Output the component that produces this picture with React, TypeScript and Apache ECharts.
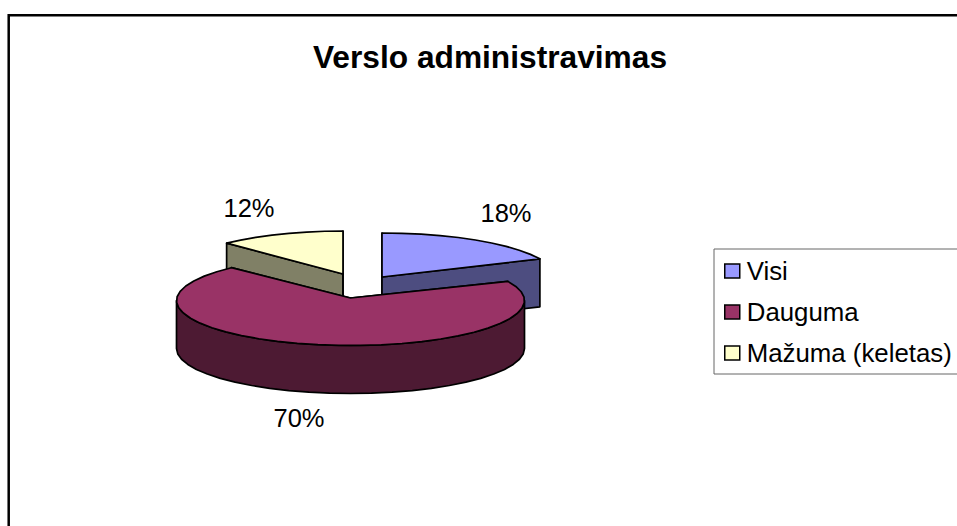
import React, { useEffect, useRef } from "react";
import * as echarts from "echarts";

const titleText = "Verslo administravimas";
const categories = ["Visi", "Dauguma", "Mažuma (keletas)"];
const values = [18, 70, 12];
const topColors = ["#9999FF", "#993366", "#FFFFCC"];
const wallColors = ["#4D4D80", "#4D1A33", "#808066"];

// layout of the exploded 3D pie, in pixels
const apexes = [[382, 277], [350.5, 298], [343, 274]];
const radiiX = [174.5, 174, 170];
const centerDrops = [1, 2.5, 2];
const labelPositions = [[506, 213], [299, 418], [249, 208]];
const seriesZ = [3, 4, 2];
const RY = 45, DEPTH = 48, ARC_STEP = 7;

const FONT = '"Liberation Sans", Arial, sans-serif';
const LINE = { stroke: "#000", lineWidth: 1.7, lineJoin: "round" };

function sliceElements(i: number, value: number) {
  const total = values.reduce((a, b) => a + b, 0);
  const before = values.slice(0, i).reduce((a, b) => a + b, 0);
  const start = (before / total) * 360;
  const end = start + (value / total) * 360;
  const [ax, ay] = apexes[i];
  const rim = (deg: number, drop = 0) => {
    const r = (deg * Math.PI) / 180;
    return [ax + radiiX[i] * Math.sin(r), ay + centerDrops[i] - RY * Math.cos(r) + drop];
  };
  const arc = (a: number, b: number, drop = 0) => {
    const pts: number[][] = [];
    const n = Math.max(1, Math.ceil(Math.abs(b - a) / ARC_STEP));
    for (let k = 0; k <= n; k++) pts.push(rim(a + ((b - a) * k) / n, drop));
    return pts;
  };
  const wallStyle = { fill: wallColors[i], ...LINE };
  const children: any[] = [];
  for (const deg of [start, end]) {
    const p = rim(deg);
    children.push({
      type: "polygon",
      shape: { points: [[ax, ay], p, [p[0], p[1] + DEPTH], [ax, ay + DEPTH]] },
      style: wallStyle,
    });
  }
  const wa = Math.max(start, 90), wb = Math.min(end, 270);
  if (wb > wa) {
    children.push({
      type: "polygon",
      shape: { points: [...arc(wa, wb), ...arc(wb, wa, DEPTH)] },
      style: wallStyle,
    });
  }
  children.push({
    type: "polygon",
    shape: { points: [[ax, ay], ...arc(start, end)] },
    style: { fill: topColors[i], ...LINE },
  });
  const [lx, ly] = labelPositions[i];
  children.push({
    type: "text",
    x: lx,
    y: ly,
    style: {
      text: `${value}%`,
      fill: "#000",
      font: `25.5px ${FONT}`,
      align: "center",
      verticalAlign: "middle",
    },
  });
  return { type: "group", children };
}

export default function App() {
  const ref = useRef<HTMLDivElement>(null);
  useEffect(() => {
    document.body.style.margin = "0";
    document.body.style.overflow = "hidden";
    const chart = echarts.init(ref.current!, undefined, { renderer: "svg" });
    chart.setOption({
      animation: false,
      backgroundColor: "#fff",
      title: {
        text: titleText,
        left: 490,
        top: 41,
        padding: 0,
        textAlign: "center",
        textStyle: { fontFamily: FONT, fontSize: 31.7, fontWeight: "bold", color: "#000" },
      },
      legend: {
        orient: "vertical",
        left: 714,
        top: 249,
        padding: [9, 10, 8, 10],
        itemGap: 15,
        itemWidth: 15,
        itemHeight: 14,
        icon: "rect",
        selectedMode: false,
        backgroundColor: "#fff",
        borderColor: "#666",
        borderWidth: 1,
        itemStyle: { borderColor: "#000", borderWidth: 1.5 },
        textStyle: { fontFamily: FONT, fontSize: 25.8, color: "#000", padding: [0, 0, 0, 2] },
        data: categories,
      },
      graphic: [
        {
          type: "rect",
          z: -1,
          shape: { x: 8.7, y: 15.3, width: 1100, height: 700 },
          style: { fill: "#fff", stroke: "#000", lineWidth: 2.5 },
        },
      ],
      series: categories.map((name, i) => ({
        type: "custom",
        name,
        coordinateSystem: "none",
        z: seriesZ[i],
        itemStyle: { color: topColors[i] },
        data: [[values[i]]],
        renderItem: (_p: any, api: any) => sliceElements(i, api.value(0)),
      })),
    });
    return () => chart.dispose();
  }, []);
  return <div ref={ref} style={{ width: 957, height: 526 }} />;
}
